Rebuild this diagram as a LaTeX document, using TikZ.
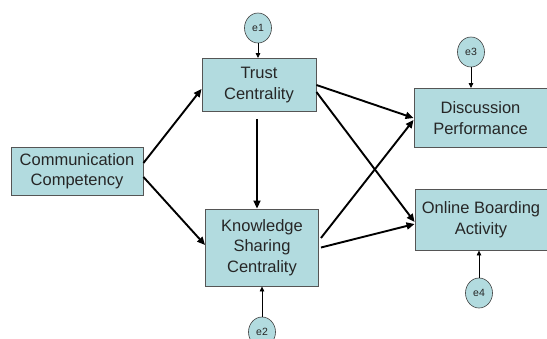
\documentclass[tikz,border=0pt]{standalone}
\usepackage{fontspec}
\setmainfont{Liberation Sans}
\usetikzlibrary{positioning, arrows.meta, shapes.geometric, calc}
\definecolor{boxfill}{RGB}{178,219,223}
\definecolor{boxline}{RGB}{85,85,85}

\begin{document}
\begin{tikzpicture}[
        x=1pt, y=-1pt,
        construct/.style={rectangle, draw=boxline, fill=boxfill, line width=0.9pt, align=center, inner sep=0pt, text=black!85, font=\fontsize{16.5}{20.5}\selectfont},
        errterm/.style={ellipse, draw=black!75, fill=boxfill, line width=0.6pt, minimum width=27pt, minimum height=30pt, inner sep=0pt, text=black!85, font=\fontsize{10.5}{11}\selectfont},
        effect/.style={-{Triangle[length=8pt, width=7pt]}, line width=1.9pt},
        disturb/.style={-{Triangle[length=5pt, width=4.5pt]}, line width=0.7pt},
    ]
        \useasboundingbox (0,0) rectangle (547,338);

        % Draw the construct boxes
        \node[construct, minimum width=132pt, minimum height=48pt] (comm) at (77,171) {Communication\\Competency};
        \node[construct, minimum width=114pt, minimum height=53pt] (trust) at (259,85) {Trust\\Centrality};
        \node[construct, minimum width=113pt, minimum height=77pt] (know) at (262,247.5) {Knowledge\\Sharing\\Centrality};
        \node[construct, minimum width=133pt, minimum height=59pt] (disc) at (480.5,118) {Discussion\\Performance};
        \node[construct, minimum width=132pt, minimum height=61pt] (online) at (481,219.5) {Online Boarding\\Activity};

        % Draw the error terms
        \foreach \name / \x / \y in {e1/258/28, e2/262/332, e3/471/52, e4/479/293}
            \node[errterm] (\name) at (\x,\y) {\name};

        % Connect the error terms with their constructs
        \draw[disturb] (e1) -- (e1 |- trust.north);
        \draw[disturb] (e2) -- (e2 |- know.south);
        \draw[disturb] (e3) -- (e3 |- disc.north);
        \draw[disturb] (e4) -- (e4 |- online.south);

        % Draw the paths between the constructs
        \draw[effect] ([yshift=8pt]comm.east) -- ([yshift=-4pt]trust.west);
        \draw[effect] ([yshift=-6pt]comm.east) -- ([yshift=2.5pt]know.west);
        \draw[effect, shorten <=7pt] ([xshift=-2pt]trust.south) -- ([xshift=-5pt]know.north);
        \draw[effect] (trust.east) -- (disc.west);
        \draw[effect] ([yshift=-7pt]trust.east) -- ([yshift=-2.5pt]online.west);
        \draw[effect] ([xshift=2pt, yshift=9.5pt]know.east) -- ([yshift=-2pt]disc.west);
        \draw[effect] ([xshift=2pt]know.east) -- ([yshift=-4.5pt]online.west);
    \end{tikzpicture}
\end{document}
